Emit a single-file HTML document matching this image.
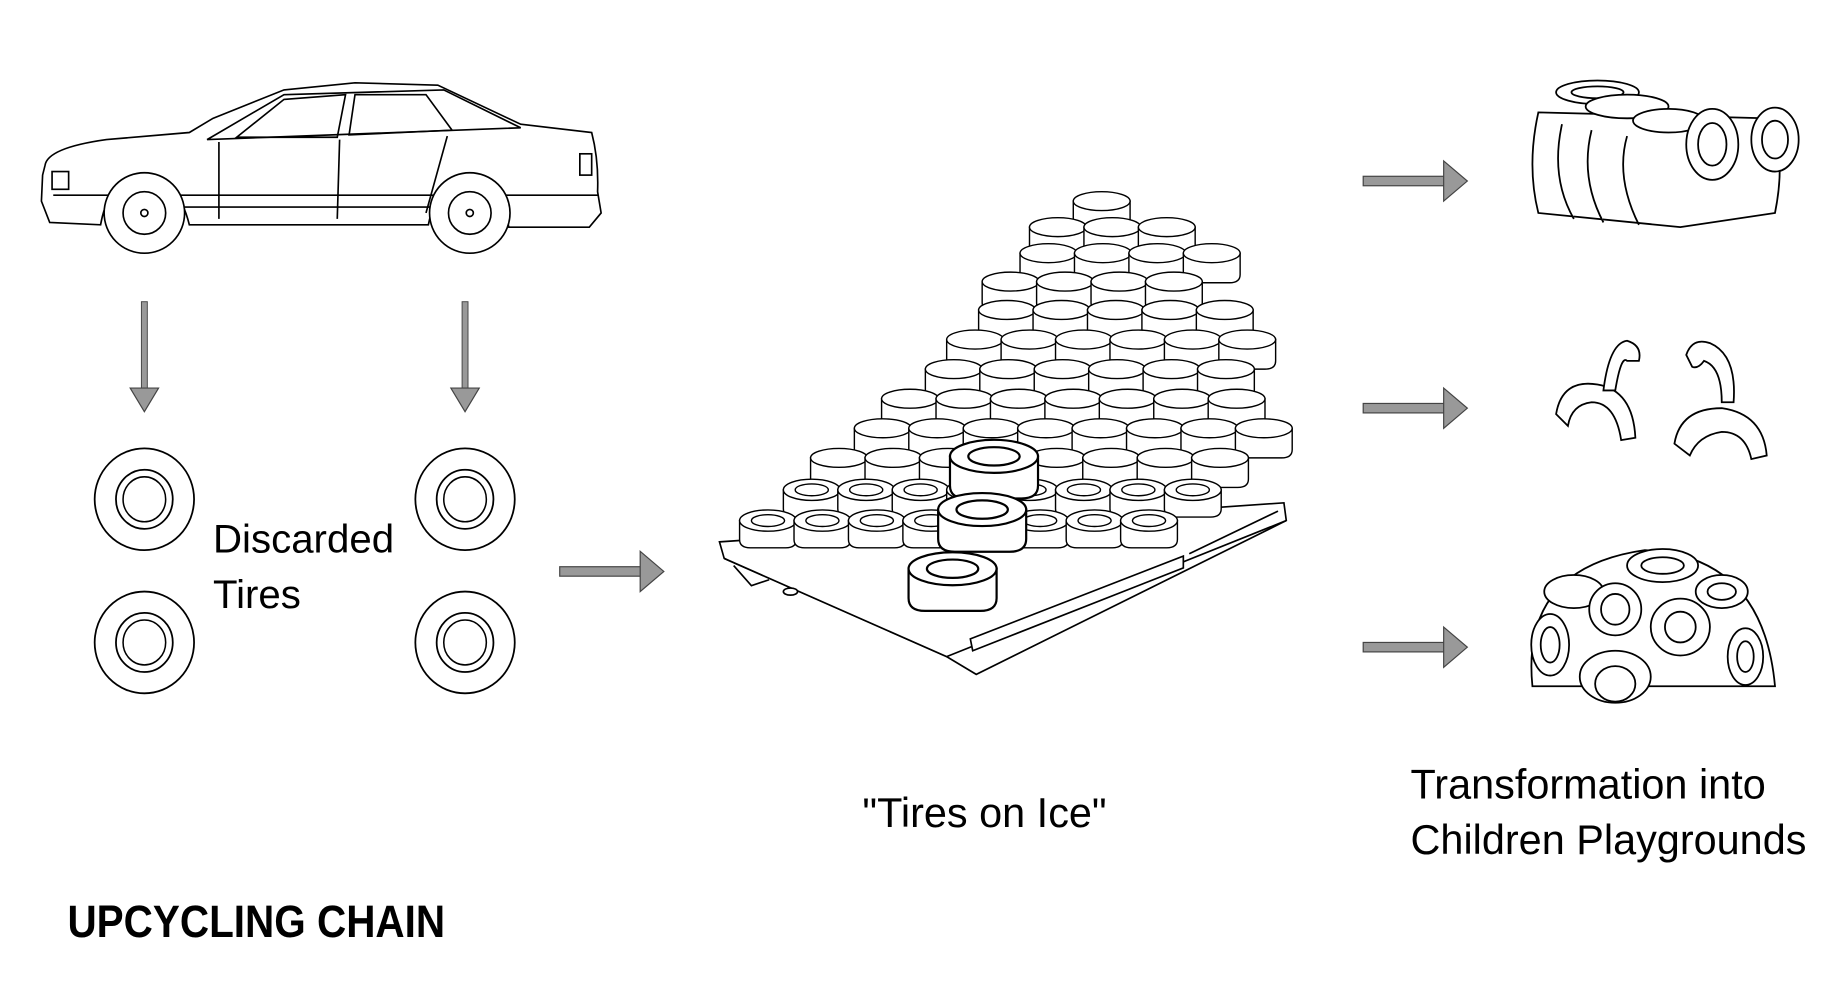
<!DOCTYPE html>
<html><head><meta charset="utf-8"><style>
html,body{margin:0;padding:0;background:#fff;}
svg{display:block}
text{font-family:"Liberation Sans",sans-serif;fill:#000}
</style></head><body>
<svg id="s" width="1846" height="982" viewBox="0 0 1560 830" preserveAspectRatio="none" xmlns="http://www.w3.org/2000/svg">
<defs>
<g id="t"><path d="M-24,-8 L-24,10 Q-24,17 -15,17 L15,17 Q24,17 24,10 L24,-8 Z" fill="#fff" stroke="#000" stroke-width="1.2"/><ellipse cx="0" cy="-8" rx="24" ry="8" fill="#fff" stroke="#000" stroke-width="1.2"/></g>
<g id="to"><path d="M-24,-6 L-24,10 Q-24,17 -15,17 L15,17 Q24,17 24,10 L24,-6 Z" fill="#fff" stroke="#000" stroke-width="1.2"/><ellipse cx="0" cy="-6" rx="24" ry="9" fill="#fff" stroke="#000" stroke-width="1.2"/><ellipse cx="0" cy="-6" rx="14" ry="5" fill="#fff" stroke="#000" stroke-width="1.2"/></g>
<g id="ar"><rect x="0" y="-4" width="70" height="8" fill="#999" stroke="#444" stroke-width="1"/><path d="M68,-17 L88,0 L68,17 Z" fill="#999" stroke="#444" stroke-width="1"/></g>
<g id="dar"><rect x="-2.5" y="0" width="5" height="75" fill="#999" stroke="#444" stroke-width="0.8"/><path d="M-12,73 L0,93 L12,73 Z" fill="#999" stroke="#444" stroke-width="1"/></g>
<g id="wt"><ellipse cx="0" cy="0" rx="42" ry="43" fill="#fff" stroke="#000" stroke-width="1.5"/><ellipse cx="0" cy="0" rx="24" ry="25" fill="none" stroke="#000" stroke-width="1.5"/><ellipse cx="0" cy="0" rx="18" ry="19" fill="none" stroke="#000" stroke-width="1.3"/></g>
</defs>
<!-- car -->
<g fill="none" stroke="#000" stroke-width="1.4">
<path d="M38,140 Q40,125 90,118 L160,112 L180,100 L240,76 L300,70 L370,72 L440,105 L500,112 Q506,135 505,162 L508,180 L498,192 L430,192 Q420,150 397,148 Q370,150 362,190 L160,190 Q150,150 122,148 Q92,150 85,190 L42,188 L35,170 L36,148 Z" fill="#fff"/>
<path d="M175,118 L240,80 L375,76 L440,108 Z"/>
<path d="M200,116 L240,84 L292,80 L285,116 Z"/>
<path d="M300,80 L360,80 L382,110 L295,114 Z"/>
<path d="M185,120 L185,185 M287,118 L285,185 M378,115 L360,180"/>
<path d="M45,165 L505,165 M150,175 L365,175"/>
<rect x="44" y="145" width="14" height="15"/>
<rect x="490" y="130" width="10" height="18"/>
<circle cx="122" cy="180" r="34" fill="#fff"/><circle cx="122" cy="180" r="18"/><circle cx="122" cy="180" r="3"/>
<circle cx="397" cy="180" r="34" fill="#fff"/><circle cx="397" cy="180" r="18"/><circle cx="397" cy="180" r="3"/>
</g>
<use href="#dar" x="122" y="255"/><use href="#dar" x="393" y="255"/>
<use href="#wt" x="122" y="422"/><use href="#wt" x="393" y="422"/>
<use href="#wt" x="122" y="543"/><use href="#wt" x="393" y="543"/>
<text x="180" y="467" font-size="34">Discarded</text>
<text x="180" y="514" font-size="34">Tires</text>
<use href="#ar" x="473" y="483"/>
<!-- pallet -->
<g fill="#fff" stroke="#000" stroke-width="1.4">
<path d="M608,458 L1085,425 L1087,440 L825,570 L800,555 L612,472 Z"/>
<path d="M612,472 L800,555 L1087,440"/>
<path d="M820,540 L1000,470 L1000,480 L822,550 Z M1005,468 L1080,432"/>
<path d="M620,478 L635,495 L650,490"/>
<ellipse cx="668" cy="500" rx="6" ry="3"/>
</g>
<g id="pile"></g>
<text x="832" y="699" font-size="35" text-anchor="middle">"Tires on Ice"</text>
<use href="#ar" x="1152" y="153"/><use href="#ar" x="1152" y="345"/><use href="#ar" x="1152" y="547"/>
<!-- top cluster -->
<g fill="#fff" stroke="#000" stroke-width="1.5">
<path d="M1300,95 Q1290,140 1300,180 L1420,192 L1500,180 Q1510,130 1495,100 Z"/>
<path d="M1320,105 Q1310,150 1330,185 M1345,110 Q1335,150 1355,188 M1375,115 Q1365,150 1385,190"/>
<ellipse cx="1350" cy="78" rx="35" ry="10"/><ellipse cx="1350" cy="78" rx="22" ry="5"/>
<ellipse cx="1375" cy="90" rx="35" ry="10"/><ellipse cx="1410" cy="102" rx="30" ry="10"/>
<ellipse cx="1447" cy="122" rx="22" ry="30"/><ellipse cx="1447" cy="122" rx="12" ry="18"/>
<ellipse cx="1500" cy="118" rx="20" ry="27"/><ellipse cx="1500" cy="118" rx="11" ry="16"/>
</g>
<!-- arcs -->
<g fill="#fff" stroke="#000" stroke-width="1.5">
<path d="M1315,350 Q1320,320 1350,325 Q1380,330 1382,370 L1370,372 Q1365,340 1345,340 Q1328,342 1325,360 Z"/>
<path d="M1355,330 Q1360,290 1375,288 Q1388,292 1385,305 L1375,305 Q1370,300 1365,330 Z"/>
<path d="M1425,300 Q1430,285 1445,290 Q1468,300 1465,340 L1455,340 Q1455,310 1440,305 Q1435,312 1430,310 Z"/>
<path d="M1415,375 Q1420,345 1455,345 Q1490,350 1493,385 L1480,388 Q1475,365 1455,365 Q1435,368 1428,385 Z"/>
</g>
<!-- dome -->
<g fill="#fff" stroke="#000" stroke-width="1.5">
<path d="M1295,580 Q1285,480 1390,465 Q1490,470 1500,580 Z"/>
<ellipse cx="1405" cy="478" rx="30" ry="14"/><ellipse cx="1405" cy="478" rx="18" ry="7"/>
<ellipse cx="1330" cy="500" rx="25" ry="14"/><ellipse cx="1455" cy="500" rx="22" ry="14"/><ellipse cx="1455" cy="500" rx="12" ry="7"/>
<ellipse cx="1365" cy="515" rx="22" ry="22"/><ellipse cx="1365" cy="515" rx="12" ry="13"/>
<ellipse cx="1420" cy="530" rx="25" ry="24"/><ellipse cx="1420" cy="530" rx="13" ry="13"/>
<ellipse cx="1310" cy="545" rx="16" ry="26"/><ellipse cx="1310" cy="545" rx="8" ry="15"/>
<ellipse cx="1475" cy="555" rx="15" ry="24"/><ellipse cx="1475" cy="555" rx="7" ry="13"/>
<ellipse cx="1365" cy="572" rx="30" ry="22"/><ellipse cx="1365" cy="578" rx="17" ry="15"/>
</g>
<text x="1192" y="675" font-size="35">Transformation into</text>
<text x="1192" y="722" font-size="35">Children Playgrounds</text>
<text x="57" y="792" font-size="38" font-weight="bold" transform="translate(57,0) scale(0.9,1) translate(-57,0)">UPCYCLING CHAIN</text>
</svg>
<script>
var rows=[[178,895,975],[200,870,1010],[222,850,1040],[246,830,1055],[270,815,1065],[295,800,1075],[320,770,1080],[345,745,1080],[370,710,1078],[395,685,1068],[420,650,1060],[446,625,1000]];
var g=document.getElementById('pile'),ns="http://www.w3.org/2000/svg";
rows.forEach(function(r,i){for(var x=r[1]+24;x<=r[2]-20;x+=46){var u=document.createElementNS(ns,'use');u.setAttribute('href',i>=10?'#to':'#t');u.setAttribute('x',x+(i%2?0:12));u.setAttribute('y',r[0]);g.appendChild(u);}});
[[840,395],[830,440],[805,490]].forEach(function(p){var u=document.createElementNS(ns,'use');u.setAttribute('href','#to');u.setAttribute('x',p[0]);u.setAttribute('y',p[1]);u.setAttribute('transform','translate('+p[0]+','+p[1]+') scale(1.55) translate('+(-p[0])+','+(-p[1])+')');g.appendChild(u);});
</script>
</body></html>
